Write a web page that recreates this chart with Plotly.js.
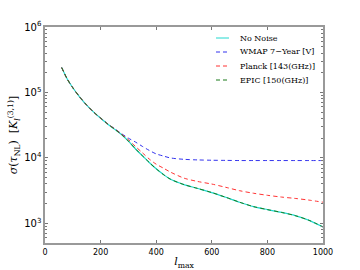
<!DOCTYPE html>
<html><head><meta charset="utf-8">
<script src="https://cdn.plot.ly/plotly-3.0.1.min.js"></script>
<style>html,body{margin:0;padding:0;background:#fff}#chart{width:360px;height:270px}</style>
</head><body><div id="chart"></div>
<script>
const lmax = [60, 80, 100, 125, 150, 175, 200, 225, 250, 275, 300, 325, 350, 375, 400, 425, 450, 500, 550, 600, 650, 700, 750, 800, 850, 900, 950, 1000];
const noNoise = [240000, 160000, 118000, 85000, 64000, 50000, 40500, 33000, 27500, 22800, 18000, 13800, 10800, 8500, 6800, 5600, 4750, 3900, 3400, 2950, 2500, 2100, 1800, 1620, 1470, 1310, 1110, 880];
const wmap = [240000, 160000, 118000, 85000, 64000, 50000, 40600, 33300, 28000, 23500, 20000, 17500, 15000, 13000, 11500, 10700, 10000, 9500, 9300, 9200, 9150, 9100, 9100, 9100, 9100, 9100, 9100, 9100];
const planck = [240000, 160000, 118000, 85000, 64000, 50000, 40500, 33100, 27800, 23000, 19000, 15000, 12000, 9600, 8000, 7000, 6100, 4900, 4350, 3980, 3550, 3150, 2880, 2680, 2520, 2400, 2260, 2100];
const epic = [240000, 160000, 118000, 85000, 64000, 50000, 40500, 33000, 27500, 22800, 18000, 13800, 10800, 8500, 6800, 5600, 4750, 3900, 3400, 2950, 2500, 2100, 1800, 1620, 1470, 1310, 1110, 880];
const seriesNames = ["No Noise", "WMAP 7\u2212Year [V]", "Planck [143(GHz)]", "EPIC [150(GHz)]"];

const serif = "DejaVu Serif, serif";
const colors = ["#22d8cf", "#3333ee", "#ff3333", "#1a7a1a"];
const dashes = ["solid", "4px,3px", "4px,3px", "4px,3px"];
const widths = [1.2, 1, 1, 1];
const ys = [noNoise, wmap, planck, epic];
const traces = ys.map((y, i) => ({x: lmax, y: y, name: seriesNames[i], mode: "lines", showlegend: false,
  line: {color: colors[i], width: widths[i], dash: dashes[i], shape: "spline", smoothing: 0.8}}));

const W = 360, H = 270, mL = 45, mR = 37, mT = 27, mB = 27;
const pw = W - mL - mR, ph = H - mT - mB;
const px = v => (v - mL) / pw, py = v => (H - mB - v) / ph;
const legY = [38, 52, 66, 80];
const shapes = [], annotations = [];
legY.forEach((yy, i) => {
  shapes.push({type: "line", xref: "paper", yref: "paper", x0: px(216), x1: px(229), y0: py(yy), y1: py(yy),
    line: {color: colors[i], width: 1, dash: dashes[i]}});
  annotations.push({xref: "paper", yref: "paper", x: px(238), y: py(yy), xanchor: "left", yanchor: "middle",
    text: seriesNames[i], showarrow: false, font: {family: serif, size: 8, color: "#000"}});
});

const axCommon = {showline: true, linecolor: "#999", linewidth: 2, mirror: "ticks", ticks: "inside", tickcolor: "#777", ticklen: 3, showgrid: false, zeroline: false, tickfont: {family: "DejaVu Sans, sans-serif", size: 8, color: "#000"}};
const layout = {
  width: W, height: H,
  margin: {l: mL, r: mR, t: mT, b: mB},
  paper_bgcolor: "#fff", plot_bgcolor: "#fff",
  showlegend: false,
  shapes: shapes, annotations: annotations,
  xaxis: Object.assign({}, axCommon, {range: [0, 1000], tickvals: [0, 200, 400, 600, 800, 1000], ticktext: ["0", "200", "400", "600", "800", "1000"],
    title: {text: "<i>l</i><sub>max</sub>", font: {family: serif, size: 11, color: "#000"}, standoff: 2}}),
  yaxis: Object.assign({}, axCommon, {type: "log", range: [Math.log10(500), 6], dtick: 1, exponentformat: "power",
    minor: {ticks: "inside", ticklen: 2, tickcolor: "#777", dtick: "D1", showgrid: false},
    title: {text: "<i>σ</i>(<i>τ</i><sub>NL</sub>)  [<i>K</i><sub><i>l</i></sub><sup>(3,1)</sup>]", font: {family: serif, size: 11, color: "#000"}, standoff: 4}})
};
Plotly.newPlot("chart", traces, layout, {displayModeBar: false, staticPlot: true});
</script></body></html>
